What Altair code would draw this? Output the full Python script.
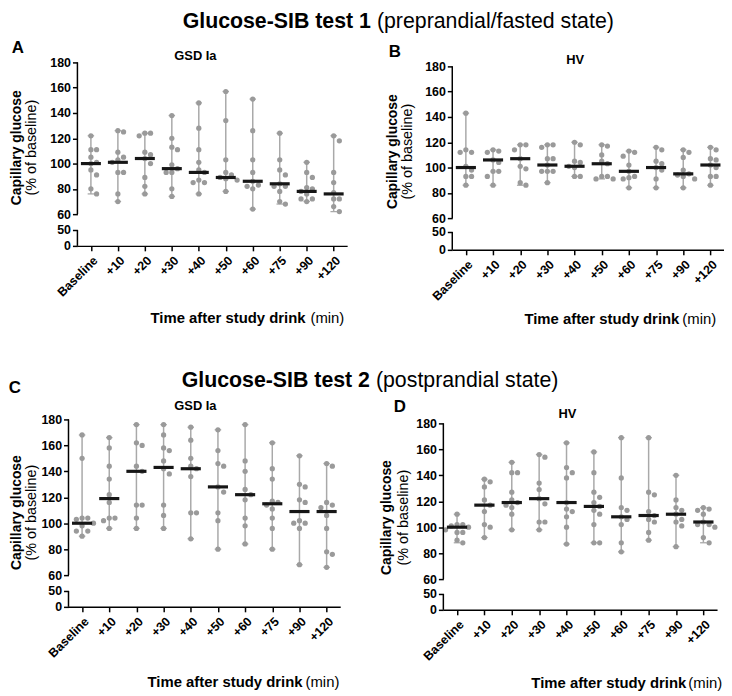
import altair as alt
import pandas as pd

FONT = "Liberation Sans"
CATS = ["Baseline", "+10", "+20", "+30", "+40", "+50", "+60", "+75", "+90", "+120"]
YTICKS = [0, 50, 60, 80, 100, 120, 140, 160, 180]

# Panel A: GSD Ia, test 1
A_VALUES = [
    [122, 111, 111, 105, 101, 100, 95, 91, 80, 76],
    [126, 125, 109, 105, 103, 101, 93, 93, 76, 70],
    [124, 124, 122, 109, 107, 104, 100, 89, 82, 76],
    [138, 120, 113, 111, 99, 96, 93, 93, 80, 74],
    [148, 128, 111, 101, 95, 93, 87, 85, 85, 76],
    [157, 134, 103, 93, 91, 89, 88, 87, 78],
    [151, 126, 103, 93, 86, 83, 82, 80, 64],
    [124, 103, 95, 91, 84, 82, 82, 78, 70, 68],
    [101, 93, 89, 81, 80, 78, 76, 72, 72, 70],
    [122, 118, 93, 85, 77, 72, 72, 66, 62],
]
A_MEDIANS = [100, 101, 104, 96, 93, 89, 86, 84, 78, 76]

# Panel B: HV, test 1
B_VALUES = [
    [143, 114, 112, 112, 101, 98, 93, 93, 86],
    [114, 113, 112, 106, 104, 97, 97, 93, 86],
    [118, 118, 114, 107, 101, 99, 88, 86],
    [118, 118, 116, 107, 107, 102, 97, 97, 97, 88],
    [120, 118, 105, 104, 101, 100, 93, 93],
    [118, 117, 110, 105, 103, 93, 93, 91, 91],
    [113, 112, 109, 102, 97, 93, 92, 91, 84],
    [116, 114, 105, 103, 100, 98, 91, 84],
    [114, 112, 108, 98, 95, 94, 93, 91, 84],
    [116, 114, 107, 106, 102, 100, 93, 93, 86],
]
B_MEDIANS = [100, 106, 107, 102, 101, 103, 97, 100, 95, 102]

# Panel C: GSD Ia, test 2
C_VALUES = [
    [168, 150, 104, 104, 103, 100, 98, 94, 94, 90],
    [166, 158, 144, 134, 122, 116, 104, 104, 102, 96],
    [176, 162, 160, 144, 140, 114, 114, 104, 96],
    [176, 168, 158, 156, 148, 142, 138, 114, 106, 96],
    [174, 164, 150, 144, 142, 136, 108, 108, 88],
    [172, 156, 146, 144, 128, 124, 108, 102, 80],
    [176, 148, 140, 126, 122, 118, 104, 98, 84],
    [162, 142, 134, 117, 116, 114, 111, 104, 96, 80],
    [152, 130, 128, 118, 116, 102, 100, 100, 96, 68],
    [146, 144, 116, 114, 112, 106, 96, 78, 76, 66],
]
C_MEDIANS = [100, 119, 140, 143, 142, 128, 122, 115, 109, 109]

# Panel D: HV, test 2
D_VALUES = [
    [110, 102, 102, 101, 100, 98, 96, 96, 90, 88],
    [137, 135, 131, 121, 117, 112, 102, 100, 92],
    [150, 142, 142, 127, 121, 119, 117, 115, 110, 98],
    [156, 154, 134, 129, 122, 118, 104, 104, 98],
    [165, 146, 142, 138, 119, 114, 112, 108, 100, 87],
    [158, 142, 127, 123, 119, 116, 113, 110, 102, 88, 88],
    [169, 138, 115, 113, 108, 106, 102, 88, 81],
    [169, 127, 125, 112, 109, 106, 104, 96, 90],
    [140, 121, 115, 113, 110, 106, 104, 101, 85],
    [115, 114, 113, 110, 104, 102, 102, 100, 92, 88],
]
D_MEDIANS = [100, 117, 119, 122, 119, 116, 108, 109, 110, 104]

LABEL_EXPR = "[" + ",".join("'%s'" % c for c in CATS) + "][datum.value]"
ONE = pd.DataFrame({"k": [0]})


def swarm(cols, thr=4.5, step=0.21):
    """Scatter-dot spreading: points closer than thr are pushed sideways."""
    rows = []
    for i, vals in enumerate(cols):
        placed = []
        for v in sorted(vals, reverse=True):
            slot = 0
            for s in [0, 1, -1, 2, -2, 3, -3]:
                if all(not (ps == s and abs(pv - v) < thr) for ps, pv in placed):
                    slot = s
                    break
            placed.append((slot, v))
            rows.append({"idx": i, "val": v, "xp": i + slot * step})
    return pd.DataFrame(rows)


def label(txt, x, y, size, weight="normal", align="center", angle=0):
    kw = dict(text=txt, fontSize=size, fontWeight=weight, align=align,
              baseline="middle", font=FONT, color="black")
    if angle:
        kw["angle"] = angle
    return alt.Chart(ONE).mark_text(**kw).encode(x=alt.value(x), y=alt.value(y))


def panel(values, medians, width, height, yrange, xrange, axis_offset, texts):
    pts = swarm(values)
    med = pd.DataFrame({"idx": list(range(10)), "med": medians})
    xscale = alt.Scale(domain=[-0.5, 9.5], range=xrange, nice=False, zero=False)
    yscale = alt.Scale(domain=[0, 50, 60, 180], range=yrange, nice=False, zero=False)
    xaxis = alt.Axis(values=list(range(10)), labelExpr=LABEL_EXPR, labelAngle=-45,
                     labelOverlap=False, title=None, grid=False,
                     labelFontSize=12.5, labelPadding=3)
    yaxis = alt.Axis(values=YTICKS, domain=False, offset=axis_offset, title=None,
                     grid=False, labelFontSize=12.5, labelOverlap=False)

    def X(f):
        return alt.X(f, type="quantitative", scale=xscale, axis=xaxis)

    def Y(f):
        return alt.Y(f, type="quantitative", scale=yscale, axis=yaxis)

    rng = alt.Chart(pts).transform_aggregate(
        lo="min(val)", hi="max(val)", groupby=["idx"])
    whisk = rng.mark_rule(color="#a9a9a9", strokeWidth=1.5).encode(
        x=X("idx"), y=Y("lo"), y2=alt.Y2("hi"))
    caps = rng.transform_fold(["lo", "hi"], as_=["end", "yv"]).transform_calculate(
        xa="datum.idx - 0.12", xb="datum.idx + 0.12"
    ).mark_rule(color="#a9a9a9", strokeWidth=1.3).encode(
        x=X("xa"), x2=alt.X2("xb"), y=Y("yv"))
    dots = alt.Chart(pts).mark_circle(size=28, color="#9a9a9a", opacity=1).encode(
        x=X("xp"), y=Y("val"))
    bars = alt.Chart(med).transform_calculate(
        xa="datum.idx - 0.37", xb="datum.idx + 0.37"
    ).mark_rule(color="#161616", strokeWidth=3.2).encode(
        x=X("xa"), x2=alt.X2("xb"), y=Y("med"))
    axisline = alt.Chart(pd.DataFrame({"lo": [60, 0], "hi": [180, 50]})).mark_rule(
        color="black", strokeWidth=1.5).encode(
        x=alt.value(xrange[0]), y=Y("lo"), y2=alt.Y2("hi"))
    layers = [whisk, caps, dots, bars, axisline] + texts
    return alt.layer(*layers).properties(width=width, height=height)


def ytitles(x1, x2, y):
    return [label("Capillary glucose", x1, y, 14, "bold", angle=270),
            label("(% of baseline)", x2, y, 14.5, "normal", angle=270)]


def xtitle(xr, xl, y):
    return [label("Time after study drink", xr, y, 15, "bold", align="right"),
            label("(min)", xl, y, 15, "normal", align="left")]


pA = panel(A_VALUES, A_MEDIANS, 281, 185, [185, 169, 153, 0], [9, 281], -9,
           [label("Glucose-SIB test 1", 305, -41, 21.5, "bold", align="right"),
            label("(preprandial/fasted state)", 311, -41, 21.5, "normal", align="left"),
            label("A", -51, -15, 17, "bold"),
            label("GSD Ia", 128, -6, 13, "bold")]
           + ytitles(-52, -37, 86) + xtitle(239, 244, 258))

pB = panel(B_VALUES, B_MEDIANS, 283, 189, [189, 171, 157, 4], [9, 283], -9,
           [label("B", -49, -10, 17, "bold"),
            label("HV", 133, -2, 13, "bold")]
           + ytitles(-51, -36, 90) + xtitle(238, 241, 259))

pC = panel(C_VALUES, C_MEDIANS, 274, 189, [189, 173, 157, 0], [0, 274], 0,
           [label("Glucose-SIB test 2", 304, -39, 21.5, "bold", align="right"),
            label("(postprandial state)", 310, -39, 21.5, "normal", align="left"),
            label("C", -54, -32, 17, "bold"),
            label("GSD Ia", 128, -14, 13, "bold")]
           + ytitles(-52, -37, 94) + xtitle(236, 239, 265))

pD = panel(D_VALUES, D_MEDIANS, 276, 192, [192, 176, 161, 4], [0, 276], 0,
           [label("D", -44, -12, 17, "bold"),
            label("HV", 125, -5, 13, "bold")]
           + ytitles(-57, -40, 99) + xtitle(245, 247, 266))

chart = alt.concat(
    pA, pB, pC, pD, columns=2, bounds="flush",
    spacing=alt.RowColnumber(row=171, column=97),
).properties(
    padding=0
).configure_view(stroke=None).configure_axis(
    labelFont=FONT, labelFontWeight="bold", labelColor="black",
    tickColor="black", tickWidth=1.5, tickSize=5,
    domainColor="black", domainWidth=1.5,
)

chart.save("out.html", embed_options={"renderer": "svg", "actions": False})
